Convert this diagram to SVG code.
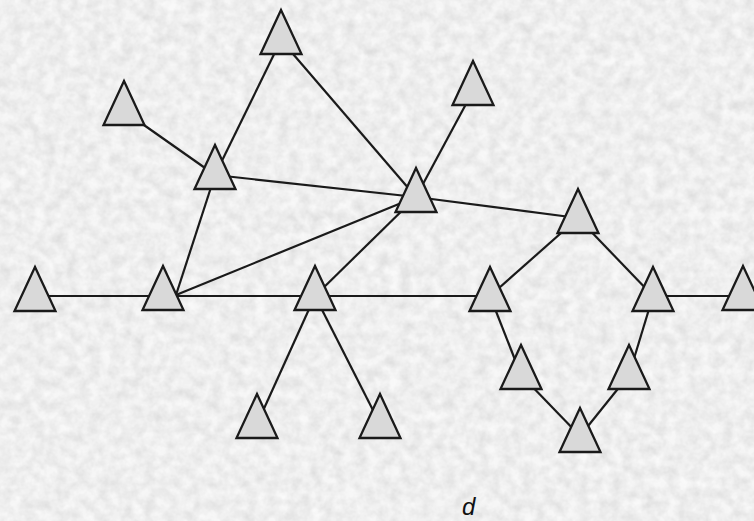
<svg xmlns="http://www.w3.org/2000/svg" xmlns:xlink="http://www.w3.org/1999/xlink" width="754" height="521" viewBox="0 0 754 521">
<style>
.e{stroke:#1a1a1a;stroke-width:2.2;fill:none}
.t{fill:#d9d9d9;stroke:#1a1a1a;stroke-width:2.3;stroke-linejoin:miter}
.lbl{font-family:"Liberation Sans",Arial,sans-serif;font-style:italic;font-size:24px;fill:#111}
</style>
<defs>
<filter id="tex" x="0" y="0" width="100%" height="100%">
<feTurbulence type="fractalNoise" baseFrequency="0.09" numOctaves="3" seed="4" result="n"/>
<feComponentTransfer in="n" result="g"><feFuncR type="linear" slope="0.45" intercept="0.66"/><feFuncG type="linear" slope="0.45" intercept="0.66"/><feFuncB type="linear" slope="0.45" intercept="0.66"/><feFuncA type="linear" slope="0" intercept="1"/></feComponentTransfer>
<feColorMatrix in="g" type="saturate" values="0"/>
</filter>
<polygon id="tri" points="0,-44 -20.5,0 20.5,0"/>
</defs>
<rect width="754" height="521" fill="#e0e0e0"/>
<rect width="754" height="521" filter="url(#tex)" opacity="0.85"/>
<g id="connectors">
<line class="e" x1="281" y1="40" x2="215" y2="175"/>
<line class="e" x1="281" y1="40" x2="416" y2="197"/>
<line class="e" x1="124" y1="111" x2="215" y2="175"/>
<line class="e" x1="215" y1="175" x2="416" y2="197"/>
<line class="e" x1="215" y1="175" x2="176" y2="295"/>
<line class="e" x1="473" y1="91" x2="416" y2="197"/>
<line class="e" x1="416" y1="197" x2="578" y2="218"/>
<line class="e" x1="416" y1="197" x2="176" y2="295"/>
<line class="e" x1="416" y1="197" x2="315" y2="296"/>
<line class="e" x1="35" y1="296" x2="490" y2="296"/>
<line class="e" x1="653" y1="296" x2="743" y2="296"/>
<line class="e" x1="315" y1="296" x2="257" y2="424"/>
<line class="e" x1="315" y1="296" x2="380" y2="424"/>
<line class="e" x1="490" y1="296" x2="578" y2="218"/>
<line class="e" x1="578" y1="218" x2="653" y2="296"/>
<line class="e" x1="490" y1="296" x2="521" y2="375"/>
<line class="e" x1="521" y1="375" x2="580" y2="436"/>
<line class="e" x1="580" y1="436" x2="629" y2="375"/>
<line class="e" x1="629" y1="375" x2="653" y2="296"/>
</g>
<g id="n1"><use xlink:href="#tri" class="t" x="281" y="54"/></g>
<g id="n2"><use xlink:href="#tri" class="t" x="124" y="125"/></g>
<g id="n3"><use xlink:href="#tri" class="t" x="215" y="189"/></g>
<g id="n4"><use xlink:href="#tri" class="t" x="473" y="105"/></g>
<g id="n5"><use xlink:href="#tri" class="t" x="416" y="212"/></g>
<g id="n6"><use xlink:href="#tri" class="t" x="578" y="233"/></g>
<g id="n7"><use xlink:href="#tri" class="t" x="35" y="311"/></g>
<g id="n8"><use xlink:href="#tri" class="t" x="163" y="310"/></g>
<g id="n9"><use xlink:href="#tri" class="t" x="315" y="310"/></g>
<g id="n10"><use xlink:href="#tri" class="t" x="490" y="311"/></g>
<g id="n11"><use xlink:href="#tri" class="t" x="653" y="311"/></g>
<g id="n12"><use xlink:href="#tri" class="t" x="743" y="310"/></g>
<g id="n13"><use xlink:href="#tri" class="t" x="521" y="389"/></g>
<g id="n14"><use xlink:href="#tri" class="t" x="629" y="389"/></g>
<g id="n15"><use xlink:href="#tri" class="t" x="580" y="452"/></g>
<g id="n16"><use xlink:href="#tri" class="t" x="257" y="438"/></g>
<g id="n17"><use xlink:href="#tri" class="t" x="380" y="438"/></g>
<text class="lbl" x="462" y="515">d</text>
</svg>
